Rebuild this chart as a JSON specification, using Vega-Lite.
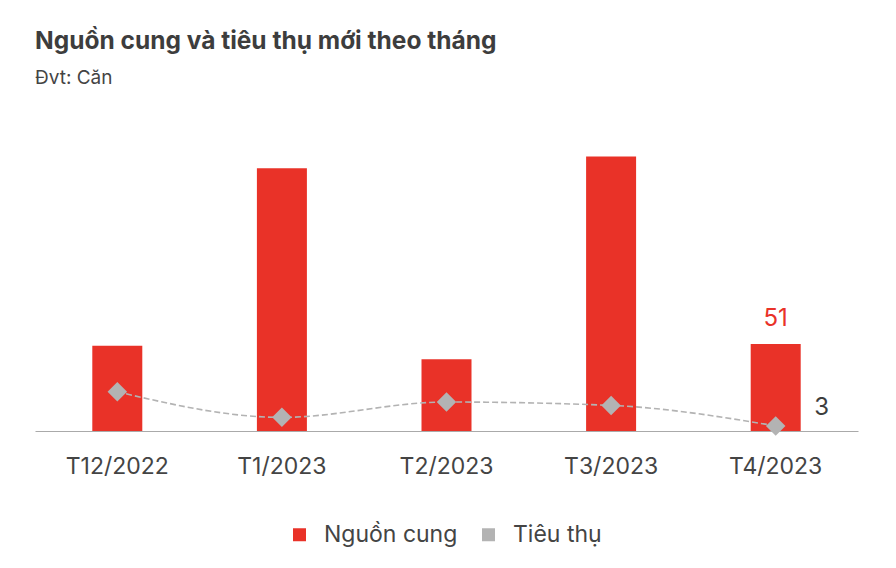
{
  "$schema": "https://vega.github.io/schema/vega-lite/v6.json",
  "width": 823,
  "height": 307,
  "padding": {"left": 35, "right": 38, "top": 28, "bottom": 18},
  "autosize": {"type": "pad"},
  "background": "white",
  "config": {"view": {"stroke": null}, "font": "Inter"},
  "title": {
    "text": "Nguồn cung và tiêu thụ mới theo tháng",
    "subtitle": "Đvt: Căn",
    "anchor": "start",
    "frame": "group",
    "font": "Inter",
    "fontSize": 24.5,
    "fontWeight": "bold",
    "color": "#3d3d3d",
    "subtitleFont": "Inter",
    "subtitleFontSize": 19,
    "subtitleColor": "#444444",
    "subtitlePadding": 15,
    "offset": 35
  },
  "data": {
    "values": [
      {"thang": "T12/2022", "nguon_cung": 50, "tieu_thu": 23},
      {"thang": "T1/2023", "nguon_cung": 154, "tieu_thu": 8},
      {"thang": "T2/2023", "nguon_cung": 42, "tieu_thu": 17},
      {"thang": "T3/2023", "nguon_cung": 161, "tieu_thu": 15},
      {"thang": "T4/2023", "nguon_cung": 51, "tieu_thu": 3}
    ]
  },
  "encoding": {
    "x": {
      "field": "thang",
      "type": "nominal",
      "sort": null,
      "scale": {"paddingInner": 0, "paddingOuter": 0},
      "axis": {
        "title": null,
        "labelAngle": 0,
        "labelFont": "Inter",
        "labelFontSize": 23,
        "labelColor": "#444444",
        "labelPadding": 24,
        "ticks": false,
        "domainColor": "#aaaaaa",
        "domainWidth": 1.2,
        "grid": false
      }
    }
  },
  "layer": [
    {
      "mark": {"type": "bar", "size": 50},
      "encoding": {
        "y": {"field": "nguon_cung", "type": "quantitative", "scale": {"domain": [0, 180]}, "axis": null},
        "color": {
          "datum": "Nguồn cung",
          "type": "nominal",
          "scale": {"domain": ["Nguồn cung", "Tiêu thụ"], "range": ["#e93228", "#b3b3b3"]},
          "legend": {
            "title": null,
            "orient": "none",
            "legendX": 253,
            "legendY": 399,
            "direction": "horizontal",
            "symbolType": "square",
            "symbolSize": 169,
            "symbolStrokeWidth": 0,
            "labelFont": "Inter",
            "labelFontSize": 23,
            "labelColor": "#444444",
            "columnPadding": 19,
            "symbolOffset": 0,
            "labelOffset": 13
          }
        }
      }
    },
    {
      "mark": {"type": "line", "color": "#b3b3b3", "strokeDash": [6, 3], "strokeWidth": 1.6, "interpolate": "monotone"},
      "encoding": {
        "y": {"field": "tieu_thu", "type": "quantitative"}
      }
    },
    {
      "mark": {"type": "point", "shape": "diamond", "filled": true, "color": "#b3b3b3", "size": 380, "opacity": 1},
      "encoding": {
        "y": {"field": "tieu_thu", "type": "quantitative"}
      }
    },
    {
      "transform": [{"filter": "datum.thang == 'T4/2023'"}],
      "mark": {"type": "text", "color": "#e93228", "font": "Inter", "fontSize": 24, "baseline": "alphabetic", "dy": -18},
      "encoding": {
        "y": {"field": "nguon_cung", "type": "quantitative"},
        "text": {"field": "nguon_cung", "type": "quantitative"}
      }
    },
    {
      "transform": [{"filter": "datum.thang == 'T4/2023'"}],
      "mark": {"type": "text", "color": "#3d3d3d", "font": "Inter", "fontSize": 24, "baseline": "middle", "dx": 46, "dy": -18},
      "encoding": {
        "y": {"field": "tieu_thu", "type": "quantitative"},
        "text": {"field": "tieu_thu", "type": "quantitative"}
      }
    }
  ]
}
